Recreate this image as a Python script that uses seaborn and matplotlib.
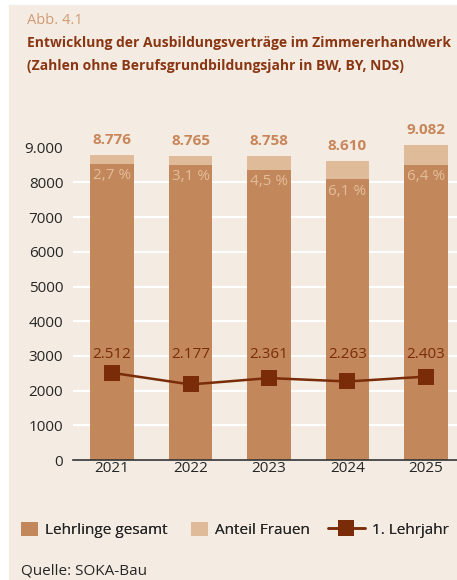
import numpy as np
import pandas as pd
import seaborn as sns
import matplotlib.pyplot as plt
from matplotlib.patches import Patch, Rectangle
from matplotlib.lines import Line2D

years = ["2021", "2022", "2023", "2024", "2025"]
total = [8776, 8765, 8758, 8610, 9082]
women_pct = [2.7, 3.1, 4.5, 6.1, 6.4]
first_year = [2512, 2177, 2361, 2263, 2403]
ytick_vals = [0, 1000, 2000, 3000, 4000, 5000, 6000, 7000, 8000, 9000]
ytick_labels = ["0", "1000", "2000", "3000", "4000", "5000", "6000", "7000", "8000", "9.000"]

bg = "#f4ece2"
c_main = "#c2875a"
c_women = "#dfbb9a"
c_line = "#7a2c08"
c_title = "#8a3612"
c_abb = "#d09b74"
c_total = "#c8865a"
c_pct = "#e3bd9b"
c_text = "#262626"

sns.set_theme(style="white")
plt.rcParams["font.family"] = ["Open Sans", "DejaVu Sans"]

W, H = 457, 580
fig = plt.figure(figsize=(W / 100, H / 100), dpi=100, facecolor="white")


def fx(x):
    return x / W


def fy(y):
    return 1 - y / H


fig.patches.append(Rectangle((fx(9), 0), 1 - fx(9), fy(5), transform=fig.transFigure,
                             color=bg, zorder=-10))

ax = fig.add_axes([fx(73), fy(460), fx(457) - fx(73), (460 - 113) / H])
ax.set_facecolor("none")

df = pd.DataFrame({
    "year": years,
    "total": total,
    "lower": [t * (1 - p / 100) for t, p in zip(total, women_pct)],
    "first": first_year,
})

sns.barplot(data=df, x="year", y="total", color=c_women, saturation=1, width=0.56,
            linewidth=0, ax=ax, zorder=2)
sns.barplot(data=df, x="year", y="lower", color=c_main, saturation=1, width=0.56,
            linewidth=0, ax=ax, zorder=3)
sns.lineplot(x=np.arange(len(years)), y=df["first"], color=c_line, lw=1.8, marker="s",
             markersize=11, markeredgewidth=0, sort=False, ax=ax, zorder=5)

# the 1. Lehrjahr labels sit on one common row above the line
label_row = 3030
for i in range(len(years)):
    ax.annotate(f"{total[i]:,}".replace(",", "."), (i, total[i]), xytext=(0, 6),
                textcoords="offset points", ha="center", va="bottom", fontsize=11,
                fontweight="bold", color=c_total)
    ax.annotate(f"{women_pct[i]:.1f} %".replace(".", ","), (i, df["lower"][i]), xytext=(0, -3),
                textcoords="offset points", ha="center", va="top", fontsize=11, color=c_pct)
    ax.text(i, label_row, f"{first_year[i]:,}".replace(",", "."), ha="center", va="center",
            fontsize=11, color=c_line, zorder=6)

ax.set_xlim(-0.497, 4.395)
ax.set_ylim(0, 10000)
ax.set_yticks(ytick_vals)
ax.set_yticklabels(ytick_labels)
ax.set_xlabel("")
ax.set_ylabel("")
ax.tick_params(axis="both", length=0, labelsize=11, colors=c_text)
ax.tick_params(axis="y", pad=7)
ax.tick_params(axis="x", pad=1)
ax.yaxis.grid(True, color="white", lw=1.5, zorder=0)
ax.set_axisbelow(True)
ax.get_ygridlines()[-1].set_visible(False)
for s in ["top", "right", "left"]:
    ax.spines[s].set_visible(False)
ax.spines["bottom"].set_color("#333333")
ax.spines["bottom"].set_linewidth(1.2)
ax.spines["bottom"].set_zorder(6)

fig.text(fx(27), fy(21), "Abb. 4.1", fontsize=10.5, color=c_abb, va="center", ha="left")
fig.text(fx(27), fy(43), "Entwicklung der Ausbildungsverträge im Zimmererhandwerk",
         fontsize=10, fontweight="bold", color=c_title, va="center", ha="left")
fig.text(fx(27), fy(66), "(Zahlen ohne Berufsgrundbildungsjahr in BW, BY, NDS)",
         fontsize=10, fontweight="bold", color=c_title, va="center", ha="left")

legend_items = [
    (Patch(facecolor=c_main, edgecolor="none"), "Lehrlinge gesamt", 21, 1.1),
    (Patch(facecolor=c_women, edgecolor="none"), "Anteil Frauen", 191, 1.1),
    (Line2D([0], [0], color=c_line, lw=1.8, marker="s", markersize=11, markeredgewidth=0),
     "1. Lehrjahr", 328, 2.4),
]
for handle, label, x0, hl in legend_items:
    leg = fig.legend([handle], [label], loc="center left", bbox_to_anchor=(fx(x0), fy(530)),
                     frameon=False, fontsize=11, handlelength=hl, handleheight=1.1,
                     handletextpad=0.45, borderpad=0, borderaxespad=0, labelcolor=c_text)
    fig.add_artist(leg)
fig.text(fx(21), fy(571), "Quelle: SOKA-Bau", fontsize=11, color=c_text, va="center", ha="left")

fig.savefig("out.png", dpi=100, facecolor="white")
